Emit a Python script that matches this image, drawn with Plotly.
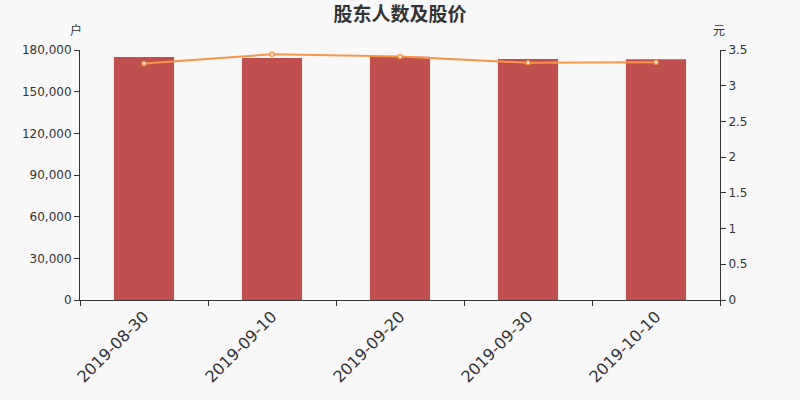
import plotly.graph_objects as go

# data
dates = ["2019-08-30", "2019-09-10", "2019-09-20", "2019-09-30", "2019-10-10"]
holders = [175000, 174200, 175200, 173500, 173300]
prices = [3.31, 3.44, 3.41, 3.32, 3.33]

left_ticks = [0, 30000, 60000, 90000, 120000, 150000, 180000]
right_ticks = [0, 0.5, 1, 1.5, 2, 2.5, 3, 3.5]

axis_color = "#333333"
bg = "#f8f8f8"
font_main = "DejaVu Sans, Noto Sans CJK SC, sans-serif"

fig = go.Figure()

# bars: shareholder count
fig.add_trace(go.Bar(
    x=dates, y=holders,
    marker=dict(color="#c0504d", line=dict(width=0)),
    name="股东户数",
    yaxis="y",
))

# line: share price
fig.add_trace(go.Scatter(
    x=dates, y=prices,
    mode="lines+markers",
    line=dict(color="#f79646", width=2),
    marker=dict(size=4, color="#ffffff", line=dict(color="#f79646", width=1.5)),
    name="股价",
    yaxis="y2",
))

fig.update_layout(
    width=800, height=400,
    paper_bgcolor=bg, plot_bgcolor=bg,
    margin=dict(l=80, r=80, t=50, b=100),
    showlegend=False,
    bargap=0.53,
    font=dict(family=font_main, color=axis_color, size=12),
    title=dict(text="<b>股东人数及股价</b>", x=0.5, xanchor="center",
               y=1 - 14 / 400, yanchor="middle",
               font=dict(size=19, color=axis_color, family=font_main)),
    xaxis=dict(
        type="category",
        tickangle=-45,
        tickson="boundaries",
        ticks="outside", ticklen=5, tickcolor=axis_color,
        showline=True, linecolor=axis_color, linewidth=1,
        showgrid=False, zeroline=False, automargin=False,
        tickfont=dict(size=16, color=axis_color),
    ),
    yaxis=dict(
        range=[0, 180000],
        tickvals=left_ticks,
        tickformat=",d",
        ticks="outside", ticklen=5, tickcolor=axis_color,
        showline=True, linecolor=axis_color, linewidth=1,
        showgrid=False, zeroline=False, automargin=False,
        tickfont=dict(size=12, color=axis_color),
    ),
    yaxis2=dict(
        overlaying="y", side="right",
        range=[0, 3.5],
        tickvals=right_ticks,
        ticks="outside", ticklen=5, tickcolor=axis_color,
        showline=True, linecolor=axis_color, linewidth=1,
        showgrid=False, zeroline=False, automargin=False,
        tickfont=dict(size=12, color=axis_color),
    ),
)

# unit labels above each value axis
fig.add_annotation(text="户", xref="paper", yref="paper", x=-0.006, y=1.076,
                   xanchor="center", yanchor="middle", showarrow=False,
                   font=dict(size=12, color=axis_color))
fig.add_annotation(text="元", xref="paper", yref="paper", x=0.998, y=1.076,
                   xanchor="center", yanchor="middle", showarrow=False,
                   font=dict(size=12, color=axis_color))

fig.write_html("out.html",
               config={"displayModeBar": False},
               post_script="document.body.style.margin='0';"
                           "document.body.style.background='#f8f8f8';")
